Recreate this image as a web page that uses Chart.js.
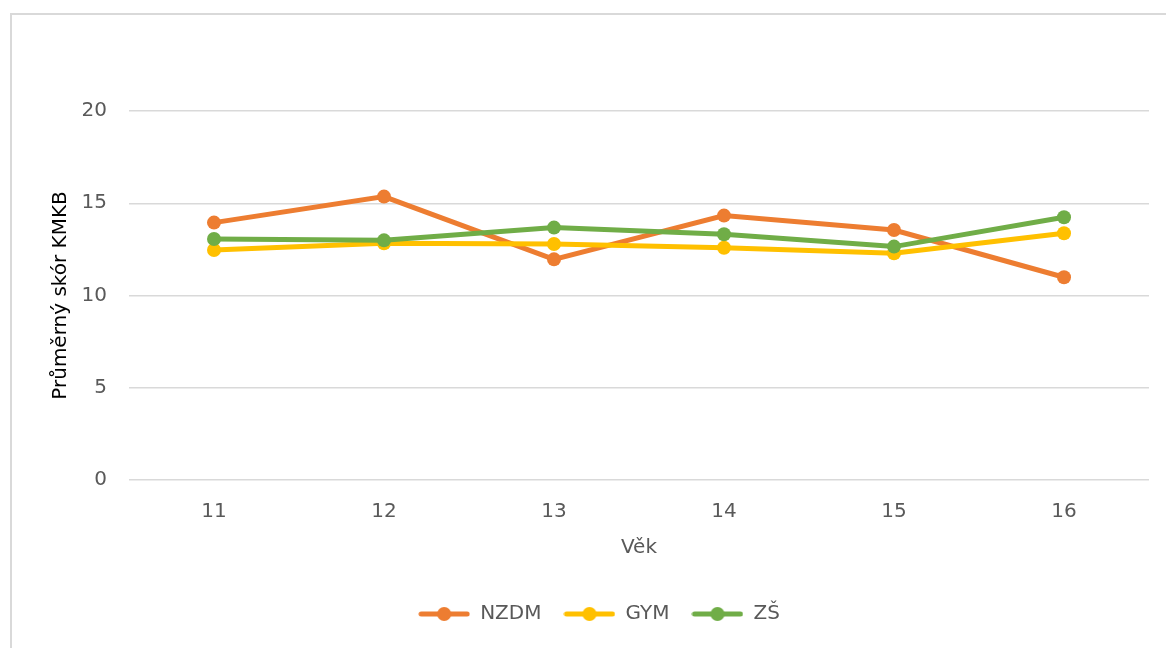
<!DOCTYPE html>
<html>
<head>
<meta charset="utf-8">
<script src="https://cdn.jsdelivr.net/npm/chart.js@4.4.0/dist/chart.umd.min.js"></script>
<style>
  html, body { margin: 0; padding: 0; background: #fff; }
  #wrap { position: relative; width: 1166px; height: 648px; overflow: hidden; }
  #frame { position: absolute; left: 10px; top: 13px; width: 1200px; height: 700px;
           border-left: 2px solid #d9d9d9; border-top: 2px solid #d9d9d9; }
  #chart { position: absolute; left: 0; top: 0; }
</style>
</head>
<body>
<div id="wrap">
  <div id="frame"></div>
  <canvas id="chart" width="1166" height="648"></canvas>
</div>
<script>
const ages = ['11', '12', '13', '14', '15', '16'];
const nzdm = [13.95, 15.36, 11.96, 14.33, 13.55, 10.99];
const gym = [12.47, 12.83, 12.79, 12.59, 12.29, 13.37];
const zs = [13.06, 12.99, 13.68, 13.32, 12.65, 14.24];

const orange = '#ED7D31';
const yellow = '#FFC000';
const green = '#70AD47';
const font = 'DejaVu Sans';

// little line-with-dot marker for the legend
function legendMarker(color) {
    const c = document.createElement('canvas');
    c.width = 52;
    c.height = 16;
    const g = c.getContext('2d');
    g.strokeStyle = color;
    g.lineWidth = 5;
    g.lineCap = 'round';
    g.beginPath();
    g.moveTo(3, 8);
    g.lineTo(49, 8);
    g.stroke();
    g.fillStyle = color;
    g.beginPath();
    g.arc(26, 8, 7, 0, Math.PI * 2);
    g.fill();
    return c;
}
const markers = [legendMarker(orange), legendMarker(yellow), legendMarker(green)];

new Chart(document.getElementById('chart'), {
    type: 'line',
    data: {
        labels: ages,
        datasets: [
            { label: 'NZDM', data: nzdm, borderColor: orange, backgroundColor: orange, order: 3 },
            { label: 'GYM', data: gym, borderColor: yellow, backgroundColor: yellow, order: 2 },
            { label: 'ZŠ', data: zs, borderColor: green, backgroundColor: green, order: 1 }
        ]
    },
    options: {
        responsive: false,
        animation: false,
        layout: { padding: { top: 111, left: 49, right: 17, bottom: 14 } },
        elements: {
            line: { borderWidth: 5, tension: 0 },
            point: { radius: 7, borderWidth: 0, hoverRadius: 7 }
        },
        plugins: {
            tooltip: { enabled: false },
            legend: {
                position: 'bottom',
                labels: {
                    usePointStyle: true,
                    pointStyleWidth: 52,
                    padding: 22,
                    color: '#595959',
                    font: { family: font, size: 20 },
                    sort: (a, b) => a.datasetIndex - b.datasetIndex,
                    generateLabels(chart) {
                        const items = Chart.defaults.plugins.legend.labels.generateLabels(chart);
                        items.forEach(it => { it.pointStyle = markers[it.datasetIndex]; });
                        return items;
                    }
                }
            }
        },
        scales: {
            x: {
                offset: true,
                afterFit(scale) { scale.height = 102; },
                grid: { display: false, drawTicks: false },
                border: { display: false },
                ticks: { color: '#595959', padding: 20, font: { family: font, size: 20 } },
                title: { display: true, text: 'Věk', color: '#595959', padding: { top: 0, bottom: 22 }, font: { family: font, size: 20 } }
            },
            y: {
                min: 0,
                max: 20,
                afterFit(scale) { scale.width = 80; },
                grid: { color: '#d9d9d9', lineWidth: 1.5, drawTicks: false },
                border: { display: false },
                ticks: { stepSize: 5, color: '#595959', padding: 22, font: { family: font, size: 20 } },
                title: { display: true, text: 'Průměrný skór KMKB', color: '#000', padding: 0, font: { family: font, size: 20 } }
            }
        }
    }
});
</script>
</body>
</html>
